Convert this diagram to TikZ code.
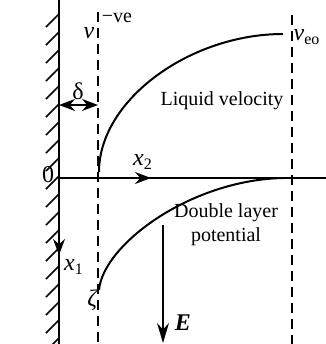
\documentclass[tikz,border=0pt]{standalone}
\usepackage{fontspec}
\setmainfont{Liberation Serif}
\usetikzlibrary{arrows.meta}

\begin{document}
\begin{tikzpicture}[x=0.5pt,y=-0.5pt,
  every node/.style={inner sep=1pt},
  wall/.style={line width=0.8pt},
  guide/.style={dash pattern=on 5pt off 3pt, line width=0.6pt},
  profile/.style={line width=1pt},
  tip/.style={-{Stealth[length=8pt,width=6pt]}, line width=0.7pt}
]
\useasboundingbox (0,0) rectangle (326,344);
% wall and axes
\coordinate (wtop) at (59,0);
\coordinate (wbot) at (59,344);
\coordinate (o) at (59,178);
\coordinate (axend) at (326,178);
\coordinate (x2tip) at (151,178);
\coordinate (x1tip) at (59,255);
\draw[wall] (wtop) -- (wbot);
\foreach \y in {14,32,...,340}
  \draw[wall] (59,\y) -- ++(-13,13);
\draw[line width=0.6pt] (o) -- (axend);
\draw[tip] (o) -- (x2tip);
\draw[tip] (o) -- (x1tip);
% slip plane and edge of layer
\coordinate (s1) at (98,12);
\coordinate (s2) at (98,344);
\coordinate (e1) at (292,15);
\coordinate (e2) at (292,344);
\draw[guide] (s1) -- (s2);
\draw[guide] (e1) -- (e2);
% profiles
\coordinate (vel0) at (99,172);
\coordinate (veleo) at (283,34);
\coordinate (zeta) at (99,290);
\coordinate (pot1) at (283,178);
\draw[profile] (vel0) .. controls (99,100) and (190,34) .. (veleo);
\draw[profile] (zeta) .. controls (103,245) and (190,180) .. (pot1);
% delta and field
\coordinate (dl) at (59,105);
\coordinate (dr) at (98,105);
\draw[{Stealth[length=8pt,width=6pt]}-{Stealth[length=8pt,width=6pt]}, line width=0.7pt] (dl) -- (dr);
\coordinate (etop) at (163,225);
\coordinate (ebot) at (163,343);
\draw[-{Stealth[length=10pt,width=6pt]}, line width=0.7pt] (etop) -- (ebot);
% labels
\node (lzero) at (48,175) {\large 0};
\node (lv) at (89,33) {\large\textit{v}};
\node (lneg) at (117,18) {−ve};
\node (lveo) at (307,37) {\large\textit{v}\textsubscript{eo}};
\node (ldelta) at (78,91) {\large δ};
\node (lx2) at (143,162) {\large\textit{x}\textsubscript{2}};
\node (lx1) at (74,267) {\large\textit{x}\textsubscript{1}};
\node (lzeta) at (93,300) {\large\textit{ζ}};
\node (lE) at (183,323) {\large\textbf{\textit{E}}};
\node (lliq) at (222,101) {Liquid velocity};
\node[align=center, inner sep=0pt] (lpot) at (226,225) {Double layer\\potential};
\end{tikzpicture}
\end{document}
